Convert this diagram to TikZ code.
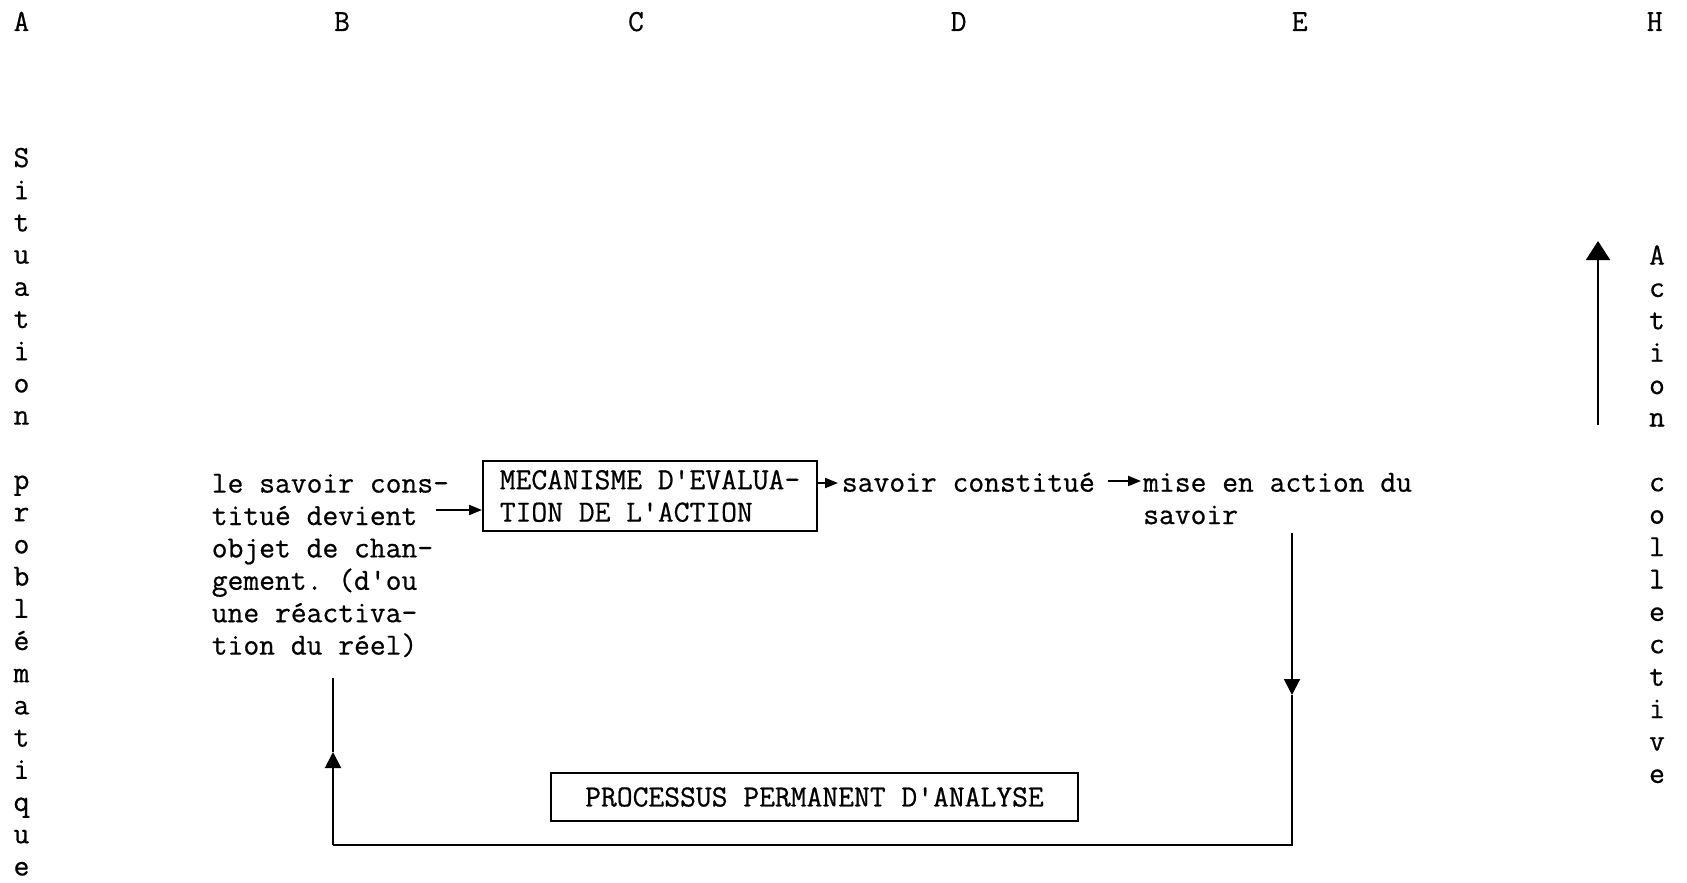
\documentclass[tikz,border=0pt]{standalone}
\usepackage{fontspec}
\setmonofont{Latin Modern Mono}[FakeBold=0.6]
\usetikzlibrary{arrows.meta}
\newcommand\diagfont{\ttfamily\fontsize{30.7pt}{32.4pt}\selectfont}
\begin{document}
\begin{tikzpicture}[x=1pt,y=-1pt,
  txt/.style={font=\diagfont, inner sep=0pt},
  boxst/.style={draw, line width=2pt, font=\diagfont, align=left, inner sep=0pt},
  conn/.style={line width=2pt},
  smallarr/.style={conn, -{Triangle[length=13pt,width=10pt]}},
  midarr/.style={conn, -{Triangle[length=16pt,width=16pt]}},
  bigarr/.style={conn, -{Triangle[length=19pt,width=24pt]}}]
\useasboundingbox (0,0) rectangle (1687,883);

% column letters
\foreach \l/\x in {A/21.5,B/342,C/636,D/958.6,E/1299.7,H/1654.7}
  \node[txt,anchor=base] (top\l) at (\x,31) {\l};

% left vertical text
\foreach \c [count=\i from 0] in {S,i,t,u,a,t,i,o,n,{},p,r,o,b,l,é,m,a,t,i,q,u,e}
  \node[txt,anchor=base] (sp\i) at (21.5,167+\i*32.2) {\c};

% right vertical text
\foreach \c [count=\i from 0] in {A,c,t,i,o,n,{},c,o,l,l,e,c,t,i,v,e}
  \node[txt,anchor=base] (ac\i) at (1657,264.5+\i*32.4) {\c};

% main nodes (base anchor = baseline of the last line)
\node[txt,anchor=base west,align=left] (lt) at (211.6,654.6)
  {le savoir cons-\\titué devient\\objet de chan-\\gement. (d'ou\\une réactiva-\\tion du réel)};
\node[boxst,minimum width=334pt,minimum height=70pt] (mec) at (650,496)
  {MECANISME D'EVALUA-\\TION DE L'ACTION};
\node[txt,anchor=base west] (sc) at (841.7,491.7) {savoir constitué};
\node[txt,anchor=base west,align=left] (mise) at (1143,524.1) {mise en action du\\savoir};
\node[boxst,minimum width=527pt,minimum height=48pt] (proc) at (814.5,797)
  {PROCESSUS PERMANENT D'ANALYSE};

% horizontal arrows
\coordinate (a1) at (436,510);
\draw[smallarr] (a1) -- (a1 -| mec.west);
\coordinate (a2) at (838,483);
\draw[smallarr] (mec.east |- a2) -- (a2);
\coordinate (a3s) at (1108,481);
\coordinate (a3e) at (1141,481);
\draw[smallarr] (a3s) -- (a3e);

% feedback loop
\coordinate (eTop) at (1292,533);
\coordinate (eMid) at (1292,695);
\coordinate (br) at (1292,845);
\coordinate (bl) at (333,845);
\coordinate (lMid) at (333,752);
\coordinate (lTop) at (333,678);
\draw[midarr] (eTop) -- (eMid);
\draw[conn] (eMid) -- (br) -- (bl);
\draw[midarr] (bl) -- (lMid);
\draw[conn] (lMid) -- (lTop);

% collective action arrow
\coordinate (upS) at (1598,425);
\coordinate (upE) at (1598,241);
\draw[bigarr] (upS) -- (upE);
\end{tikzpicture}
\end{document}
